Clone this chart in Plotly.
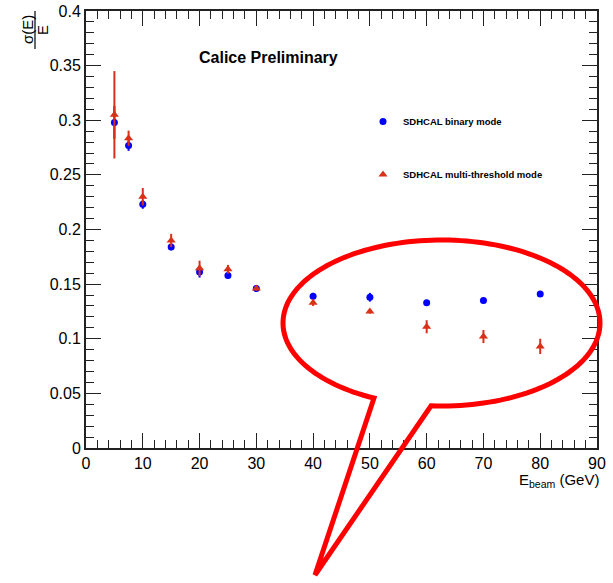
import numpy as np
import plotly.graph_objects as go

# ---- data ----
energy = [5, 7.5, 10, 15, 20, 25, 30, 40, 50, 60, 70, 80]
binary_res = [0.298, 0.277, 0.223, 0.184, 0.161, 0.158, 0.146, 0.139, 0.138, 0.133, 0.135, 0.141]
binary_err = [0.015, 0.005, 0.004, 0.003, 0.005, 0.003, 0.002, 0.003, 0.004, 0.002, 0.002, 0.002]
multi_res = [0.305, 0.2835, 0.230, 0.190, 0.1645, 0.1636, 0.146, 0.133, 0.125, 0.111, 0.102, 0.093]
multi_err = [0.040, 0.007, 0.008, 0.006, 0.007, 0.004, 0.002, 0.003, 0.002, 0.006, 0.006, 0.007]
series_names = ["SDHCAL binary mode", "SDHCAL multi-threshold mode"]

W, H = 613, 583
OFF = 0  # page body margin removed via post_script
# desired plot area in the screenshot: x 86..597, y 11..448
ML, MT = 86 - OFF, 11 - OFF
PW, PH = 511, 437
MR = W - ML - PW
MB = H - MT - PH

FONT = "Liberation Sans, Arial, sans-serif"
BLUE = "#0000ff"
RED = "#d8311a"

def px2paper(px, py):
    # px, py are screenshot pixel positions
    return (px - OFF - ML) / PW, (MT + PH - (py - OFF)) / PH

fig = go.Figure()
fig.add_trace(go.Scatter(
    x=energy, y=binary_res, mode="markers", name=series_names[0],
    marker=dict(symbol="circle", size=7, color=BLUE),
    error_y=dict(type="data", array=binary_err, color=BLUE, thickness=2, width=0),
    legendgroup="a",
))
fig.add_trace(go.Scatter(
    x=energy, y=multi_res, mode="markers", name=series_names[1],
    marker=dict(symbol="triangle-up", size=8, color=RED),
    error_y=dict(type="data", array=multi_err, color=RED, thickness=2, width=0),
    legendgroup="b",
))

# ---- speech bubble decoration (pixel geometry -> paper) ----
cx, cy, rx, ry = 441.5, 323.0, 158.5, 83.0
tip = (315, 575)
thR = np.arctan2(0.998, -0.066)
thL = np.arctan2(0.905, -0.426) - 2 * np.pi
angles = np.linspace(thR, thL, 160)
pts = [(cx + rx * np.cos(a), cy + ry * np.sin(a)) for a in angles]
pts.append(tip)
path = ""
for i, (px, py) in enumerate(pts):
    u, v = px2paper(px, py)
    path += ("M" if i == 0 else "L") + f"{u:.5f},{v:.5f} "
path += "Z"
fig.add_shape(type="path", xref="paper", yref="paper", path=path,
              line=dict(color="#ff0000", width=5), fillcolor="rgba(0,0,0,0)", layer="above")

# ---- texts ----
u, v = px2paper(268, 57)
fig.add_annotation(xref="paper", yref="paper", x=u, y=v, text="<b>Calice Preliminary</b>",
                   showarrow=False, xanchor="center", yanchor="middle",
                   font=dict(family=FONT, size=16, color="black"))
u, v = px2paper(601, 480)
fig.add_annotation(xref="paper", yref="paper", x=u, y=v, text="E<sub>beam</sub> (GeV)",
                   showarrow=False, xanchor="right", yanchor="middle",
                   font=dict(family=FONT, size=15, color="black"))
# y title as a rotated fraction sigma(E)/E
u, v = px2paper(28, 30)
fig.add_annotation(xref="paper", yref="paper", x=u, y=v, text="σ(E)", textangle=-90,
                   showarrow=False, xanchor="center", yanchor="middle",
                   font=dict(family=FONT, size=15, color="black"))
u, v = px2paper(43, 30)
fig.add_annotation(xref="paper", yref="paper", x=u, y=v, text="E", textangle=-90,
                   showarrow=False, xanchor="center", yanchor="middle",
                   font=dict(family=FONT, size=15, color="black"))
u0, v0 = px2paper(35, 11)
u1, v1 = px2paper(35, 49)
fig.add_shape(type="line", xref="paper", yref="paper", x0=u0, y0=v0, x1=u1, y1=v1,
              line=dict(color="black", width=1.2))

axis_common = dict(
    showgrid=False, zeroline=False, showline=True, linecolor="#222", linewidth=2,
    mirror="allticks", ticks="inside", ticklen=15, tickwidth=1.2, tickcolor="#222",
    tickfont=dict(family=FONT, size=16, color="black"), automargin=False,
    ticklabeloverflow="allow",
)
fig.update_xaxes(range=[0, 90], dtick=10, tick0=0,
                 minor=dict(dtick=2, ticks="inside", ticklen=8, tickcolor="#222", tickwidth=1.2),
                 **axis_common)
fig.update_yaxes(range=[0, 0.4], dtick=0.05, tick0=0,
                 minor=dict(dtick=0.01, ticks="inside", ticklen=8, tickcolor="#222", tickwidth=1.2),
                 **axis_common)

lu, lv = px2paper(363, 107)
fig.update_layout(
    width=W, height=H,
    margin=dict(l=ML, r=MR, t=MT, b=MB, pad=0, autoexpand=False),
    paper_bgcolor="white", plot_bgcolor="white",
    showlegend=True,
    legend=dict(x=lu, y=lv, xanchor="left", yanchor="top", bgcolor="rgba(0,0,0,0)",
                font=dict(family=FONT, size=9.5, color="black", weight="bold"),
                traceorder="grouped", tracegroupgap=34, itemclick=False),
)

fig.write_html("out.html", config={"displayModeBar": False},
               post_script="document.body.style.margin='0px';document.body.style.overflow='hidden';")
